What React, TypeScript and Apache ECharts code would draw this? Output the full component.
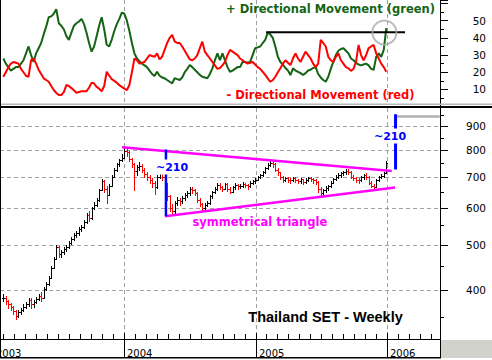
import React, { useEffect, useRef } from 'react';
import * as echarts from 'echarts';

// Weekly bars, first bar = week ending Fri 31 Jan 2003
const firstWeekUTC = Date.UTC(2003, 0, 31);

const closes = [
  385, 378, 372, 368, 360, 352, 358, 362, 368, 372,
  380, 372, 376, 382, 388, 384, 402, 412, 425, 445,
  465, 495, 478, 482, 490, 495, 505, 515, 525, 530,
  540, 545, 560, 580, 570, 600, 610, 625, 655, 685,
  660, 640, 670, 700, 725, 745, 760, 770, 795, 790,
  765, 745, 720, 735, 740, 725, 710, 700, 690, 680,
  665, 700, 712, 700, 675, 635, 600, 590, 615, 625,
  620, 630, 640, 645, 660, 655, 645, 625, 612, 600,
  610, 615, 635, 648, 660, 672, 665, 660, 675, 660,
  650, 665, 672, 668, 670, 676, 672, 668, 680, 686,
  690, 700, 705, 715, 730, 742, 750, 745, 725, 715,
  700, 690, 695, 690, 688, 695, 690, 685, 692, 682,
  690, 696, 692, 688, 682, 660, 645, 655, 662, 668,
  680, 692, 700, 705, 712, 718, 722, 718, 700, 695,
  690, 688, 698, 705, 700, 680, 670, 665, 690, 698,
  702, 712, 750,
];
const highs = [
  392, 388, 380, 374, 370, 362, 362, 366, 372, 376,
  384, 384, 380, 386, 392, 395, 405, 416, 428, 450,
  470, 500, 498, 488, 494, 500, 510, 520, 530, 536,
  545, 552, 566, 585, 590, 604, 618, 630, 660, 692,
  690, 668, 675, 705, 730, 750, 766, 782, 808, 805,
  795, 770, 748, 742, 752, 745, 730, 715, 705, 695,
  685, 705, 720, 715, 702, 678, 640, 612, 620, 632,
  630, 636, 645, 652, 666, 665, 660, 648, 630, 615,
  614, 622, 640, 652, 665, 678, 678, 670, 680, 678,
  665, 668, 678, 676, 676, 682, 680, 675, 684, 690,
  695, 704, 710, 720, 735, 748, 757, 755, 748, 730,
  718, 702, 700, 698, 695, 700, 698, 694, 696, 694,
  695, 700, 700, 696, 692, 686, 665, 660, 668, 672,
  684, 696, 705, 712, 718, 722, 728, 726, 720, 705,
  700, 695, 702, 710, 712, 702, 685, 675, 694, 702,
  708, 716, 758,
];
const lows = [
  378, 372, 366, 362, 355, 346, 350, 354, 360, 365,
  370, 366, 368, 374, 380, 378, 385, 400, 410, 425,
  445, 465, 470, 470, 478, 485, 492, 502, 512, 520,
  525, 535, 542, 558, 562, 568, 598, 605, 622, 655,
  650, 615, 640, 668, 698, 722, 740, 755, 770, 775,
  758, 735, 656, 705, 725, 718, 700, 690, 678, 665,
  643, 662, 695, 690, 665, 625, 592, 580, 585, 610,
  610, 615, 625, 632, 640, 645, 640, 618, 605, 594,
  596, 605, 612, 630, 645, 655, 658, 652, 658, 652,
  645, 648, 660, 660, 662, 665, 665, 660, 665, 675,
  680, 688, 695, 702, 712, 728, 738, 735, 720, 705,
  692, 682, 685, 682, 680, 685, 682, 678, 680, 676,
  678, 686, 685, 680, 675, 650, 636, 640, 650, 655,
  665, 678, 688, 696, 700, 706, 710, 710, 695, 688,
  682, 680, 685, 692, 692, 675, 664, 661, 665, 686,
  695, 700, 712,
];
const plusDI = [
  28, 25, 23, 21, 22, 23, 23, 25, 27, 31,
  35, 30, 26, 31, 34, 37, 42, 46.5, 52, 52.5,
  54, 56.6, 48.5, 47, 45, 41, 38.8, 43, 47, 48.5,
  49.5, 51, 48, 43, 37, 32, 35, 41, 47, 52,
  45, 36, 35, 39, 44, 48, 51, 54.7, 54, 50,
  44, 37, 31, 28, 26.5, 25, 24, 23, 21, 19,
  17.8, 20.3, 18, 17, 16.5, 15.5, 14.5, 13.6, 16.5, 16,
  15.5, 17, 20, 22, 24.2, 23, 21.5, 20, 18.5, 17.4,
  17, 16.5, 19, 22.3, 27, 31, 27, 31, 27, 23,
  20.3, 21, 22, 23, 23, 26, 26, 25.5, 26, 30,
  34, 34.5, 35, 37, 38.8, 43, 42, 40, 35, 29,
  26, 24.5, 22.5, 21, 18.4, 22.3, 21, 20.3, 19.5, 18.4,
  19.5, 21, 21.5, 22.5, 23, 19, 17, 15.5, 14.5, 17.4,
  22, 26, 30, 32.5, 33.5, 34, 32.5, 31, 28, 27,
  25.5, 24.5, 24, 24.5, 25, 24, 22, 21.5, 29, 31,
  29, 33, 45.6,
];
const minusDI = [
  17.4, 20, 23, 25, 26, 25.5, 25, 22, 20, 18,
  17.4, 27, 28, 25, 21.5, 19, 16.5, 15.5, 14.5, 12,
  9.7, 8, 6.8, 6.8, 8.5, 12.6, 12, 10.8, 9.5, 8.1,
  8.5, 9, 9, 9, 11, 14, 13.5, 11.5, 10.5, 9,
  12, 20.3, 18, 16, 15, 14, 12.5, 11.5, 10.5, 9.7,
  12.6, 20, 28, 27, 25, 25.5, 26, 28, 30, 29.5,
  29, 31, 27.5, 29, 33, 37, 40, 41.7, 38, 37,
  37, 35, 32.5, 30, 27.5, 27, 28, 30, 34, 37.8,
  32, 30, 28, 26, 24, 22, 22.5, 24, 26, 30,
  33, 32, 31, 30, 28, 27, 26, 25, 25.5, 26,
  24.5, 23, 22, 20.3, 18.5, 16.5, 14.5, 15.5, 17.4, 20,
  22.3, 25, 27, 25.5, 24.2, 28, 31, 28, 26, 29,
  32, 30, 28, 25, 23, 25, 38.8, 37, 35, 29,
  27, 26, 29, 31, 27, 25, 23, 22.3, 20.8, 22,
  26, 35.9, 30, 27, 30, 34, 35, 35.9, 31, 28,
  25, 23, 20.3,
];

const yearTicks = [2003, 2004, 2005, 2006];
const priceTicks = [350, 400, 450, 500, 550, 600, 650, 700, 750, 800, 850, 900, 950];
const priceLabels = [400, 500, 600, 700, 800, 900];

// annotations in data space [year, value]
const triangleUpper = [[2003.985, 810], [2006.036, 720]];
const triangleLower = [[2004.312, 576], [2006.061, 664]];
const moveLeft = [[2004.319, 801], [2004.319, 576]];
const moveRight = [[2006.065, 954], [2006.065, 726]];
const targetLine = [[2006.076, 943], [2006.401, 943]];
const diResistance = [[2005.080, 43.2], [2006.137, 43.2]];
const diCircle = [[2005.98, 43.1]];

const X_MIN = 2003.057;
const X_MAX = 2006.403;
const P_MIN = 313.5;
const P_MAX = 984;

function weekYear(j: number): number {
  const ms = firstWeekUTC + j * 7 * 86400000;
  const y = new Date(ms).getUTCFullYear();
  const a = Date.UTC(y, 0, 1);
  const b = Date.UTC(y + 1, 0, 1);
  return y + (ms - a) / (b - a);
}

const GREEN = '#146414';
const RED = '#ff0000';
const GRIDC = '#a0a0a0';

export default function App() {
  const ref = useRef<HTMLDivElement>(null);
  useEffect(() => {
    if (!ref.current) return;
    const chart = echarts.init(ref.current, undefined, { renderer: 'svg' });
    const ts = closes.map((_, j) => weekYear(j));
    const ohlc = closes.map((c, j) => [ts[j], j > 0 ? closes[j - 1] : c, highs[j], lows[j], c]);
    const plusData = plusDI.map((v, j) => [ts[j], v]);
    const minusData = minusDI.map((v, j) => [ts[j], v]);
    const monthTicks: number[][] = [];
    yearTicks.forEach((y) => {
      for (let m = 0; m < 12; m++) {
        const t = y + m / 12;
        if (t <= X_MAX) monthTicks.push([t, 500, m === 0 ? 1 : 0]);
      }
    });

    const annot = (data: number[][], color: string, width: number) => ({
      type: 'line', xAxisIndex: 1, yAxisIndex: 1, data, symbol: 'none', silent: true, z: 5,
      lineStyle: { color, width },
    });

    const option: any = {
      animation: false,
      backgroundColor: '#ffffff',
      grid: [
        { left: 0, top: 0, width: 440, height: 106.7 },
        { left: 0, top: 108, width: 440, height: 231 },
      ],
      xAxis: [
        {
          type: 'value', gridIndex: 0, min: X_MIN, max: X_MAX, position: 'bottom',
          axisLine: { show: false, onZero: false }, axisTick: { show: false },
          axisLabel: { show: false }, splitLine: { show: false },
        },
        {
          type: 'value', gridIndex: 1, min: X_MIN, max: X_MAX, position: 'bottom',
          axisLine: { show: true, onZero: false, lineStyle: { color: '#000', width: 1 } },
          axisTick: { show: false }, axisLabel: { show: false }, splitLine: { show: false },
        },
      ],
      yAxis: [
        {
          type: 'value', gridIndex: 0, position: 'right', min: 0, max: 62, interval: 10,
          axisLine: { show: true, lineStyle: { color: '#000', width: 1 } },
          axisTick: { show: true, length: 8, lineStyle: { color: '#000' } },
          minorTick: { show: true, splitNumber: 2, length: 4, lineStyle: { color: '#000' } },
          axisLabel: {
            show: true, align: 'right', margin: 46, fontFamily: 'DejaVu Sans', fontSize: 10.5, color: '#000',
            formatter: (v: number) => (v > 0 && v < 60 ? String(v) : ''),
          },
          splitLine: { show: false },
        },
        {
          type: 'log', gridIndex: 1, position: 'right', min: P_MIN, max: P_MAX,
          axisLine: { show: true, lineStyle: { color: '#000', width: 1 } },
          axisTick: { show: false }, axisLabel: { show: false }, splitLine: { show: false },
        },
      ],
      series: [
        {
          // year grid lines, top panel
          type: 'custom', xAxisIndex: 0, yAxisIndex: 0, z: 1, silent: true,
          data: yearTicks.map((y) => [y, 30]),
          encode: { x: 0, y: 1 },
          renderItem: (params: any, api: any) => {
            const p = api.coord([api.value(0), 30]);
            const cs = params.coordSys;
            const x = Math.round(p[0]) + 0.5;
            return { type: 'line', shape: { x1: x, y1: cs.y, x2: x, y2: 104 }, style: { stroke: GRIDC, lineWidth: 1, lineDash: [4, 3] } };
          },
        },
        {
          type: 'line', xAxisIndex: 0, yAxisIndex: 0, data: plusData, symbol: 'none', z: 3,
          lineStyle: { color: GREEN, width: 2 },
        },
        {
          type: 'line', xAxisIndex: 0, yAxisIndex: 0, data: minusData, symbol: 'none', z: 4,
          lineStyle: { color: RED, width: 2 },
        },
        {
          type: 'line', xAxisIndex: 0, yAxisIndex: 0, data: diResistance, symbol: 'none', z: 5, silent: true,
          lineStyle: { color: '#000', width: 2 },
        },
        {
          type: 'scatter', xAxisIndex: 0, yAxisIndex: 0, data: diCircle, symbol: 'circle', symbolSize: 24, z: 6,
          silent: true,
          itemStyle: { color: 'rgba(0,0,0,0)', borderColor: '#ababab', borderWidth: 2 },
        },
        {
          // month / year ticks, year grid lines and labels, bottom panel
          type: 'custom', xAxisIndex: 1, yAxisIndex: 1, z: 1, silent: true,
          data: monthTicks,
          encode: { x: 0, y: 1 },
          renderItem: (params: any, api: any) => {
            const t = api.value(0);
            const isYear = api.value(2) === 1;
            const p = api.coord([t, 500]);
            const cs = params.coordSys;
            const bottom = cs.y + cs.height;
            const x = Math.round(p[0]) + 0.5;
            const children: any[] = [];
            if (isYear) {
              children.push({ type: 'line', shape: { x1: x, y1: cs.y, x2: x, y2: bottom }, style: { stroke: GRIDC, lineWidth: 1, lineDash: [4, 3] } });
              children.push({ type: 'line', shape: { x1: x, y1: bottom - 6, x2: x, y2: bottom + 19 }, style: { stroke: '#000', lineWidth: 1 } });
              children.push({ type: 'text', style: { text: String(Math.round(t)), x: x + 2.5, y: bottom + 14, align: 'left', verticalAlign: 'middle', font: '10px "DejaVu Sans"', fill: '#000' } });
            } else {
              children.push({ type: 'line', shape: { x1: x, y1: bottom - 5, x2: x, y2: bottom }, style: { stroke: '#000', lineWidth: 1 } });
            }
            return { type: 'group', children };
          },
        },
        {
          // price ticks, grid lines and labels
          type: 'custom', xAxisIndex: 1, yAxisIndex: 1, z: 1, silent: true,
          data: priceTicks.map((v) => [2004.5, v]),
          encode: { x: 0, y: 1 },
          renderItem: (params: any, api: any) => {
            const v = api.value(1);
            const p = api.coord([2004.5, v]);
            const cs = params.coordSys;
            const right = cs.x + cs.width;
            const y = Math.round(p[1]) + 0.5;
            const major = priceLabels.indexOf(v) >= 0;
            const children: any[] = [
              { type: 'line', shape: { x1: right, y1: y, x2: right + (major ? 8 : 4), y2: y }, style: { stroke: '#000', lineWidth: 1 } },
            ];
            if (major) {
              children.push({ type: 'line', shape: { x1: cs.x, y1: y, x2: right, y2: y }, style: { stroke: GRIDC, lineWidth: 1, lineDash: [4, 3] } });
              children.push({ type: 'text', style: { text: String(v), x: right + 46, y: p[1], align: 'right', verticalAlign: 'middle', font: '10.5px "DejaVu Sans"', fill: '#000' } });
            }
            return { type: 'group', children };
          },
        },
        {
          type: 'custom', xAxisIndex: 1, yAxisIndex: 1, z: 3, silent: true,
          data: ohlc,
          encode: { x: 0, y: [2, 3] },
          renderItem: (params: any, api: any) => {
            const t = api.value(0);
            const o = api.value(1);
            const c = api.value(4);
            const pH = api.coord([t, api.value(2)]);
            const pL = api.coord([t, api.value(3)]);
            const pO = api.coord([t, o]);
            const pC = api.coord([t, c]);
            const x = Math.round(pH[0]) + 0.5;
            const color = c < o ? RED : '#000';
            const yo = Math.round(pO[1]) + 0.5;
            const yc = Math.round(pC[1]) + 0.5;
            return {
              type: 'group',
              children: [
                { type: 'line', shape: { x1: x, y1: Math.round(pH[1]), x2: x, y2: Math.round(pL[1]) + 1 }, style: { stroke: color, lineWidth: 1 } },
                { type: 'line', shape: { x1: x - 1.5, y1: yo, x2: x, y2: yo }, style: { stroke: color, lineWidth: 1 } },
                { type: 'line', shape: { x1: x, y1: yc, x2: x + 1.5, y2: yc }, style: { stroke: color, lineWidth: 1 } },
              ],
            };
          },
        },
        annot(triangleUpper, '#ff00ff', 2.5),
        annot(triangleLower, '#ff00ff', 2.5),
        annot(moveLeft, '#0000ff', 2.5),
        annot(moveRight, '#0000ff', 3),
        annot(targetLine, '#b0b0b0', 2.5),
      ],
      graphic: [
        { type: 'rect', z: 100, shape: { x: 0, y: 103.5, width: 492, height: 1.5 }, style: { fill: '#b8b8b8' } },
        { type: 'rect', z: 100, shape: { x: 0, y: 106, width: 492, height: 2 }, style: { fill: '#000' } },
        { type: 'rect', z: 100, shape: { x: 0, y: 0, width: 1, height: 358 }, style: { fill: '#000' } },
        { type: 'rect', z: 100, shape: { x: 0, y: 357, width: 441, height: 1.5 }, style: { fill: '#000' } },
        { type: 'rect', z: 100, shape: { x: 440, y: 339, width: 1, height: 19 }, style: { fill: '#000' } },
        { type: 'rect', z: 100, shape: { x: 441, y: 340, width: 51, height: 18 }, style: { fill: '#d2d2cc' } },
        { type: 'text', z: 100, x: 226, y: 9, style: { text: '+ Directional Movement (green)', font: 'bold 11.5px "DejaVu Sans"', fill: GREEN, verticalAlign: 'middle' } },
        { type: 'text', z: 100, x: 226.5, y: 95, style: { text: '- Directional Movement (red)', font: 'bold 11.5px "DejaVu Sans"', fill: RED, verticalAlign: 'middle' } },
        { type: 'text', z: 100, x: 192.5, y: 222, style: { text: 'symmetrical triangle', font: 'bold 11.5px "DejaVu Sans"', fill: '#ff00ff', verticalAlign: 'middle' } },
        { type: 'text', z: 100, x: 155, y: 167, style: { text: '~210', font: 'bold 11px "DejaVu Sans"', fill: '#0000ff', verticalAlign: 'middle', backgroundColor: '#ffffff', padding: [2, 1, 2, 1] } },
        { type: 'text', z: 100, x: 373, y: 136, style: { text: '~210', font: 'bold 11px "DejaVu Sans"', fill: '#0000ff', verticalAlign: 'middle', backgroundColor: '#ffffff', padding: [2, 1, 2, 1] } },
        { type: 'text', z: 100, x: 248.3, y: 317, style: { text: 'Thailand SET - Weekly', font: 'bold 14.5px "Liberation Sans"', fill: '#000', verticalAlign: 'middle' } },
      ],
    };
    chart.setOption(option);
    return () => chart.dispose();
  }, []);
  return (
    <div
      ref={ref}
      style={{ position: 'fixed', left: 0, top: 0, width: 492, height: 360, background: '#fff' }}
    />
  );
}
